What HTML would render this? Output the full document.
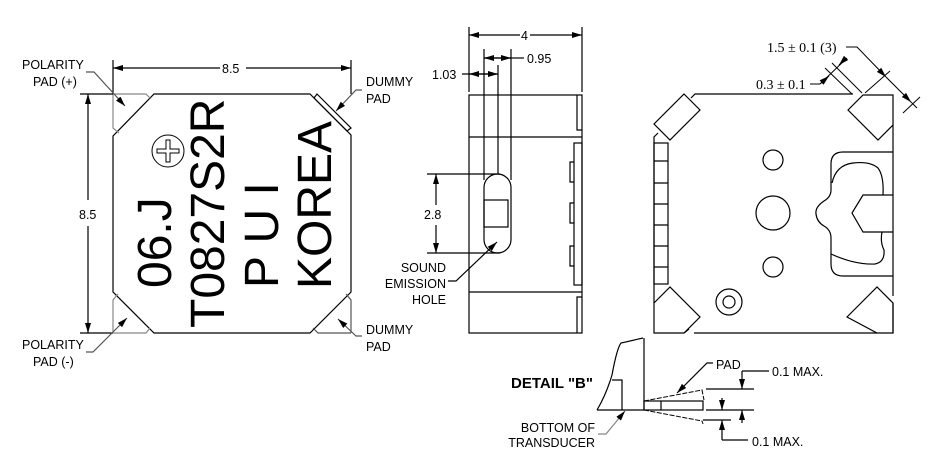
<!DOCTYPE html>
<html><head><meta charset="utf-8"><style>
html,body{margin:0;padding:0;background:#fff;}
svg{display:block;}
text{font-family:"Liberation Sans",sans-serif;fill:#000;}
.s{font-size:12.5px;}
.ser{font-family:"Liberation Serif",serif;font-size:14px;}
</style></head><body>
<svg width="948" height="468" viewBox="0 0 948 468" xmlns="http://www.w3.org/2000/svg">
<defs>
<marker id="a" viewBox="0 0 10 6" refX="10" refY="3" markerWidth="10" markerHeight="6" orient="auto" markerUnits="userSpaceOnUse"><path d="M0,0 L10,3 L0,6 Z" fill="#000"/></marker>
</defs>
<g fill="none" stroke="#000" stroke-width="1.2">
<!-- LEFT VIEW -->
<path d="M154,94 H310 L351,135 V292 L310,333 H154 L113,292 V136 Z"/>
<path d="M113,94 V128 L119,133 M113,94 H146 L151,99" stroke="#888"/>
<path d="M351,333 V300 L346,294 M351,333 H318 L313,328" stroke="#555"/>
<path d="M113,333 V300 L118,294 M113,333 H146 L150,328" stroke="#888"/>
<path d="M317,94 L351,128 L347,131 L314,98 Z"/>
<path d="M113,60 V94 M351,60 V94 M80,94 H113 M80,333 H113"/>
<path d="M220,68 H113" marker-end="url(#a)"/>
<path d="M246,68 H351" marker-end="url(#a)"/>
<path d="M88,200 V94" marker-end="url(#a)"/>
<path d="M88,226 V333" marker-end="url(#a)"/>
<path d="M86,72 H94 L125,106" stroke="#555" marker-end="url(#a)"/>
<path d="M362,90 H356 L336,111" stroke="#555" marker-end="url(#a)"/>
<path d="M86,352 H93 L127,318" stroke="#555" marker-end="url(#a)"/>
<path d="M362,336 H356 L338,319" stroke="#555" marker-end="url(#a)"/>
<circle cx="168" cy="151" r="16" stroke-width="1"/>
<path d="M166,140 h4 v9 h9 v4 h-9 v9 h-4 v-9 h-9 v-4 h9 Z" stroke-width="1"/>

<!-- SIDE VIEW -->
<rect x="469" y="95" width="113" height="238"/>
<path d="M469,137 H582 M469,292 H582"/>
<path d="M577,95 V130 H582 M577,333 V297 H582"/>
<rect x="574" y="143" width="8" height="142"/>
<path d="M574,162 h-4 v20 h4 M574,203 h-4 v20 h4 M574,246 h-4 v20 h4"/>
<rect x="484" y="174" width="27" height="79" rx="13.5"/>
<rect x="484" y="200" width="24" height="27"/>
<path d="M484,49 V180 M511,49 V180 M498,65 V174 M469,27 V92 M582,27 V92"/>
<path d="M427,174 H500 M427,253 H500"/>
<path d="M520,35 H469" marker-end="url(#a)"/>
<path d="M530,35 H582" marker-end="url(#a)"/>
<path d="M511,58 H484" marker-end="url(#a)"/>
<path d="M484,58 H511" marker-end="url(#a)"/>
<path d="M511,58 H524"/>
<path d="M462,74 H498" marker-end="url(#a)"/>
<path d="M498,74 H469" marker-end="url(#a)"/>
<path d="M436,205 V174" marker-end="url(#a)"/>
<path d="M436,225 V253" marker-end="url(#a)"/>
<path d="M448,281 H456 L497,242" marker-end="url(#a)"/>

<!-- RIGHT VIEW -->
<path d="M691,98 L695,94 H853"/>
<path d="M893,125 V296 M893,303 V333"/>
<path d="M877,333 H694 M689,329 L684,333"/>
<path d="M654,303 V137 L658,133"/>
<path d="M684,94 L700,110 L670,140 L654,124 Z"/>
<path d="M848,110 L863,95 H893 V125 L878,140 Z"/>
<path d="M654,303 L670,287 L700,317 L684,333 H654 Z"/>
<path d="M847,317 L877,287 L893,303 V333 H877 Z"/>
<rect x="654" y="143" width="14" height="141"/>
<path d="M654,161 h14 M654,183 h14 M654,204 h14 M654,225 h14 M654,246 h14 M654,267 h14"/>
<circle cx="773" cy="160" r="10"/>
<circle cx="773" cy="213" r="17"/>
<circle cx="773" cy="267" r="10"/>
<circle cx="729" cy="302" r="13"/>
<circle cx="729" cy="302" r="6"/>
<path d="M893,152 H843 Q831,152 831,164 V190 Q831,197 824,201 Q815,207 816,214 Q817,222 824,226 Q831,230 831,238 V264 Q831,276 843,276 H893"/>
<path d="M832,183 Q836,165 853,163 Q870,161 878,168 Q884,176 883,195"/>
<path d="M893,195 H863 L852,213 L863,232 H893"/>
<path d="M882,232 Q880,242 884,250 Q885,262 875,264 Q855,265 831,254"/>
<!-- dims right -->
<path d="M825,68 L852,94 M832,63 L862,93" stroke-width="1"/>
<path d="M865,93 L890,71 M903,113 L920,97" stroke-width="1"/>
<path d="M847,58 L820,84" stroke-width="1"/>
<path d="M846,58 L839,65" marker-end="url(#a)" stroke-width="1"/>
<path d="M820,84 L829,76" marker-end="url(#a)" stroke-width="1"/>
<path d="M810,84 H820" stroke-width="1"/>
<path d="M846,47 H857 L886,77" stroke-width="1" marker-end="url(#a)"/>
<path d="M886,77 L911,102" stroke-width="1" marker-end="url(#a)"/>
<path d="M911,102 L917,108" stroke-width="1"/>

<!-- DETAIL B -->
<path d="M597,410 Q606,395 612,375 Q617,348 621,343 L643,338 M644,338 V410 M597,410 H644 M612,380 H622 V410"/>
<rect x="644" y="401" width="59" height="9"/>
<path d="M661,401 V410"/>
<path d="M644,401 L702,390 L704,400 M644,410 L702,421 L703,424" stroke-dasharray="5,1.5" stroke-width="1"/>
<path d="M706,389 H754 M706,410 H754 M703,420 H731"/>
<path d="M742,371 V389" marker-end="url(#a)"/>
<path d="M742,423 V410" marker-end="url(#a)"/>
<path d="M742,371 H769"/>
<path d="M722,398 V410" marker-end="url(#a)"/>
<path d="M722,440 V420" marker-end="url(#a)"/>
<path d="M722,440 H748"/>
<path d="M713,363 H707 L677,393" marker-end="url(#a)"/>
<path d="M598,434 H606 L625,411" stroke="#888" marker-end="url(#a)"/>
</g>
<text class="s" x="22" y="69">POLARITY</text>
<text class="s" x="33" y="86">PAD (+)</text>
<text class="s" x="366" y="86">DUMMY</text>
<text class="s" x="366" y="103">PAD</text>
<text class="s" x="22" y="349">POLARITY</text>
<text class="s" x="33" y="366">PAD (-)</text>
<text class="s" x="366" y="334">DUMMY</text>
<text class="s" x="366" y="351">PAD</text>
<rect x="220" y="61" width="26" height="13" fill="#fff"/>
<text class="s" x="222" y="73">8.5</text>
<rect x="78" y="205" width="22" height="16" fill="#fff"/>
<text class="s" x="79" y="219">8.5</text>
<text transform="translate(171,288) rotate(-90)" style="font-size:48px">06.J</text>
<text transform="translate(224,328) rotate(-90)" style="font-size:48px">T0827S2R</text>
<text transform="translate(278,288) rotate(-90)" style="font-size:48px">P U I</text>
<text transform="translate(331,289) rotate(-90)" style="font-size:48px">KOREA</text>
<text class="s" x="521" y="40">4</text>
<text class="s" x="527" y="63">0.95</text>
<text class="s" x="432" y="79">1.03</text>
<text class="s" x="424" y="219">2.8</text>
<text class="s" x="446" y="272" text-anchor="end">SOUND</text>
<text class="s" x="446" y="288" text-anchor="end">EMISSION</text>
<text class="s" x="446" y="304" text-anchor="end">HOLE</text>
<text class="ser" x="767" y="52">1.5 ± 0.1 (3)</text>
<text class="ser" x="756" y="89">0.3 ± 0.1</text>
<text x="511" y="388" style="font-size:15px;font-weight:bold">DETAIL "B"</text>
<text class="s" x="716" y="369">PAD</text>
<text class="s" x="772" y="376">0.1 MAX.</text>
<text class="s" x="752" y="446">0.1 MAX.</text>
<text class="s" x="595" y="432" text-anchor="end">BOTTOM OF</text>
<text class="s" x="595" y="447" text-anchor="end">TRANSDUCER</text>
</svg>
</body></html>
